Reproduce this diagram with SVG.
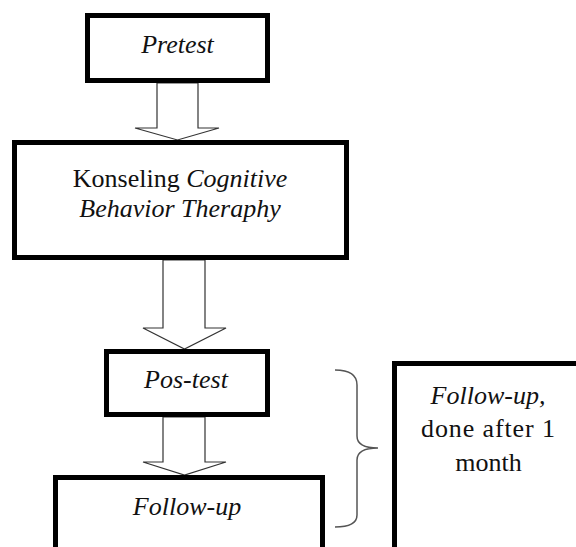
<svg xmlns="http://www.w3.org/2000/svg" width="576" height="547" viewBox="0 0 576 547">
<style>
.box{fill:#fff;stroke:#000;stroke-width:5}
.arr{fill:#fff;stroke:#333;stroke-width:1.2;stroke-linejoin:miter}
.brace{fill:none;stroke:#555;stroke-width:1.5}
</style>
<rect width="576" height="547" fill="#fff"/>
<g id="connectors">
<polygon class="arr" points="157,83 157,128 135,128 177.5,140 219,128 198,128 198,83"/>
<polygon class="arr" points="163,260 163,328 143,328 184.5,349 226,328 205,328 205,260"/>
<polygon class="arr" points="163,417 163,462 143,462 184.5,475 226,462 205,462 205,417"/>
</g>
<g id="pretest">
<rect class="box" x="87.5" y="15.5" width="180" height="65"/>
<text x="177.5" y="53" font-family="Liberation Serif, serif" font-size="26" font-style="italic" text-anchor="middle" fill="#111">Pretest</text>
</g>
<g id="konseling">
<rect class="box" x="14.5" y="142.5" width="332" height="115"/>
<text x="180" y="187" font-family="Liberation Serif, serif" font-size="26" text-anchor="middle" fill="#111">Konseling <tspan font-style="italic">Cognitive</tspan></text>
<text x="180" y="217" font-family="Liberation Serif, serif" font-size="26" font-style="italic" text-anchor="middle" fill="#111">Behavior Theraphy</text>
</g>
<g id="postest">
<rect class="box" x="106.5" y="351.5" width="161" height="63"/>
<text x="186" y="388" font-family="Liberation Serif, serif" font-size="26" font-style="italic" text-anchor="middle" fill="#111">Pos-test</text>
</g>
<g id="followup">
<rect class="box" x="55.5" y="477.5" width="267" height="100"/>
<text x="187" y="515" font-family="Liberation Serif, serif" font-size="26" font-style="italic" text-anchor="middle" fill="#111">Follow-up</text>
</g>
<g id="brace">
<path class="brace" d="M335,370 C350,370 357,375 357,385 L357,436 C357,444 365,448 378,448 C365,448 357,452 357,460 L357,515 C357,523 350,527 335,527"/>
</g>
<g id="note">
<rect class="box" x="394.5" y="363.5" width="200" height="200"/>
<text x="488" y="404" font-family="Liberation Serif, serif" font-size="26" font-style="italic" text-anchor="middle" fill="#111">Follow-up,</text>
<text x="488" y="437" font-family="Liberation Serif, serif" font-size="26" text-anchor="middle" fill="#111" textLength="134" lengthAdjust="spacing">done after 1</text>
<text x="488.5" y="471" font-family="Liberation Serif, serif" font-size="26" text-anchor="middle" fill="#111">month</text>
</g>
</svg>
